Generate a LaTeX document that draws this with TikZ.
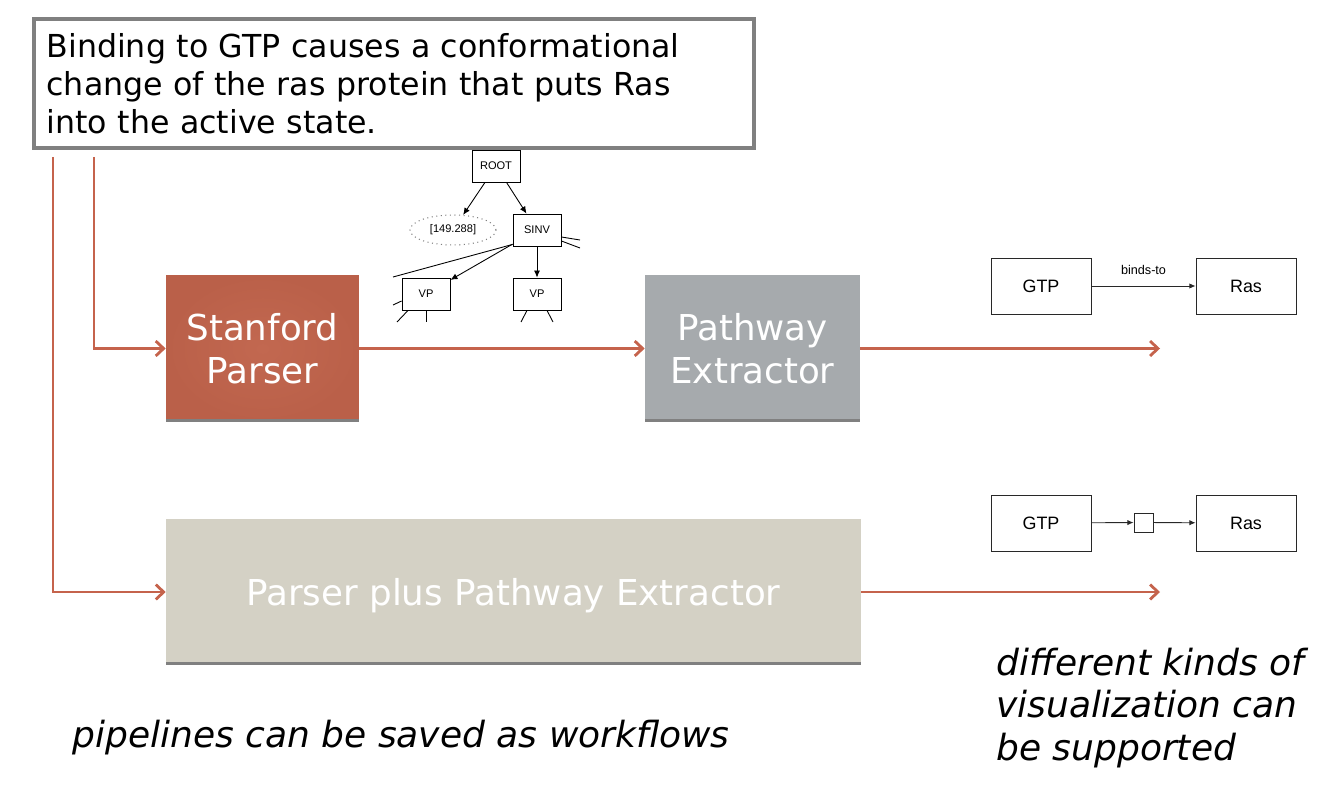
\documentclass[tikz,border=0pt]{standalone}
\usepackage{fontspec}
\setmainfont{DejaVu Sans}
\newfontfamily\arialf{Liberation Sans}
\usetikzlibrary{arrows.meta,shapes.geometric}
\definecolor{flowred}{RGB}{197,99,76}
\definecolor{stanin}{RGB}{194,104,80}
\definecolor{stanout}{RGB}{186,96,73}
\definecolor{pathgray}{RGB}{166,170,173}
\definecolor{combo}{RGB}{212,209,197}
\definecolor{botgray}{RGB}{128,128,128}
\definecolor{visline}{RGB}{40,40,40}

\tikzset{
  flow/.style={draw=flowred,line width=1.6pt,-{Straight Barb[length=4.5pt,width=8.5pt]}},
  blk/.style={minimum height=2.94cm,text=white,align=center,inner sep=0pt,
    font=\fontsize{20.3}{24.5}\selectfont,
    path picture={\fill[botgray] ([yshift=0.06cm]path picture bounding box.south west) rectangle (path picture bounding box.south east);}},
  tbox/.style={draw,line width=0.5pt,fill=white,minimum width=0.96cm,minimum height=0.64cm,inner sep=0pt,font=\arialf\fontsize{6.3}{7}\selectfont},
  tarr/.style={line width=0.5pt,-{Latex[length=4pt,width=3.5pt]}},
  tl/.style={line width=0.5pt},
  vbox/.style={draw=visline,line width=0.5pt,minimum width=2cm,minimum height=1.12cm,inner sep=0pt,font=\arialf\fontsize{10.2}{12}\selectfont},
  varr/.style={draw=visline,line width=0.5pt,-{Latex[length=3.5pt,width=3pt]}},
  note/.style={inner sep=0pt,font=\itshape\fontsize{20.5}{24.2}\selectfont}
}

\begin{document}
\begin{tikzpicture}[x=0.02cm,y=-0.02cm]
	\useasboundingbox (0,0) rectangle (1341,807);
	% sentence
	\node[draw=botgray,line width=2.4pt,fill=white,minimum width=14.4cm,minimum height=2.58cm,
	      text width=13.9cm,inner xsep=0.25cm,align=left,font=\fontsize{18}{21.6}\selectfont]
	      at (394,83.5) (sent) {Binding to GTP causes a conformational\\change of the ras protein that puts Ras\\into the active state.};
	% pipeline blocks
	\node[blk,minimum width=3.86cm,inner color=stanin,outer color=stanout] at (262.5,348.5) (sp) {Stanford\\Parser};
	\node[blk,minimum width=4.3cm,fill=pathgray] at (752.5,348.5) (pe) {Pathway\\Extractor};
	\node[blk,minimum width=13.9cm,minimum height=2.92cm,fill=combo,text depth=0pt] at (513.5,592) (big) {Parser plus Pathway Extractor};
	% flows
	\coordinate (sa) at (53,157);
	\coordinate (sb) at (94,157);
	\coordinate (oa) at (1160,348.5);
	\coordinate (ob) at (1160,592);
	\draw[flow] (sa) |- (big);
	\draw[flow] (sb) |- (sp);
	\draw[flow] (sp) -- (pe);
	\draw[flow] (pe) -- (oa);
	\draw[flow] (big) -- (ob);
	% parse tree
	\node[tbox] at (496,166) (root) {ROOT};
	\node[ellipse,draw=gray,dotted,line width=0.6pt,minimum width=1.72cm,minimum height=0.6cm,inner sep=0pt,
	      font=\arialf\fontsize{6.3}{7}\selectfont] at (453,230) (num) {[149.288]};
	\node[tbox] at (537,230) (sinv) {SINV};
	\node[tbox] at (426,294) (vpa) {VP};
	\node[tbox] at (537,294) (vpb) {VP};
	\draw[tarr] (root) -- (num);
	\draw[tarr] (root) -- (sinv);
	\draw[tarr] (sinv) -- (vpa);
	\draw[tarr] (sinv) -- (vpb);
	\coordinate (la) at (393,277);
	\coordinate (ra) at (580,240);
	\coordinate (rb) at (580,248);
	\coordinate (va1) at (397,322);
	\coordinate (va2) at (426,322);
	\coordinate (va3) at (393,305);
	\coordinate (vb1) at (521,322);
	\coordinate (vb2) at (553,322);
	\draw[tl] ([yshift=0.04cm]sinv.south west) -- (la);
	\draw[tl] ([yshift=-0.14cm]sinv.east) -- (ra);
	\draw[tl] ([yshift=-0.22cm]sinv.east) -- (rb);
	\draw[tl] ([xshift=-0.36cm]vpa.south) -- (va1);
	\draw[tl] (vpa.south) -- (va2);
	\draw[tl] ([yshift=-0.14cm]vpa.west) -- (va3);
	\draw[tl] ([xshift=-0.2cm]vpb.south) -- (vb1);
	\draw[tl] ([xshift=0.2cm]vpb.south) -- (vb2);
	% visualizations
	\node[vbox] at (1041,286) (ga) {GTP};
	\node[vbox] at (1246,286) (ra1) {Ras};
	\draw[varr] (ga) -- node[above=0.22cm,inner sep=0pt,font=\arialf\fontsize{7.2}{8}\selectfont] (bt) {binds-to} (ra1);
	\node[vbox] at (1041,523) (gb) {GTP};
	\node[draw=visline,line width=0.5pt,fill=white,minimum size=0.38cm,inner sep=0pt] at (1143.5,522.5) (lk) {};
	\node[vbox] at (1246,523) (rb1) {Ras};
	\draw[varr] (gb) -- (lk);
	\draw[varr] (lk) -- (rb1);
	% remarks
	\node[note,anchor=west] at (72,738) (wf) {pipelines can be saved as workflows};
	\node[note,anchor=west,align=left] at (996,708) (vz) {different kinds of\\visualization can\\be supported};
\end{tikzpicture}
\end{document}
